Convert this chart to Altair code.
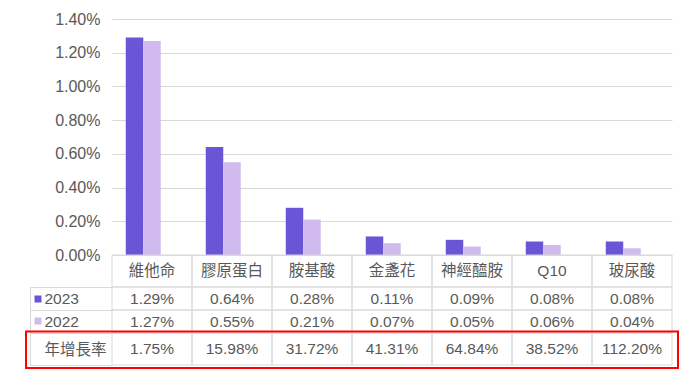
import altair as alt
import pandas as pd

# ---------------- data ----------------
categories = ["維他命", "膠原蛋白", "胺基酸", "金盞花", "神經醯胺", "Q10", "玻尿酸"]
years = ["2023", "2022"]
share_2023 = [0.0129, 0.0064, 0.0028, 0.0011, 0.0009, 0.0008, 0.0008]
share_2022 = [0.0127, 0.0055, 0.0021, 0.0007, 0.0005, 0.0006, 0.0004]
growth_label = "年增長率"
growth = [0.0175, 0.1598, 0.3172, 0.4131, 0.6484, 0.3852, 1.1220]
y_ticks = [0.0, 0.002, 0.004, 0.006, 0.008, 0.010, 0.012, 0.014]

# ---------------- style ----------------
FONT = "Liberation Sans, Noto Sans CJK TC"
TXT = "#595959"
GRID = "#d9d9d9"
C23 = "#6a55d7"
C22 = "#d0baee"
W = 560

bars_df = pd.DataFrame({
    "category": categories * 2,
    "year": [years[0]] * len(categories) + [years[1]] * len(categories),
    "value": share_2023 + share_2022,
})
cat_df = pd.DataFrame({"category": categories})
growth_df = pd.DataFrame({
    "category": categories,
    "row": [growth_label] * len(categories),
    "value": growth,
})
box_df = pd.DataFrame({"row": [growth_label]})

xs = alt.Scale(domain=categories, paddingInner=0, paddingOuter=0)
X = alt.X("category:N", scale=xs, axis=None)

# ---------------- bar chart ----------------
bars = alt.Chart(bars_df).mark_bar().encode(
    x=X,
    xOffset=alt.XOffset(
        "year:N",
        scale=alt.Scale(domain=years + [growth_label], paddingInner=0, paddingOuter=0.786),
    ),
    y=alt.Y(
        "value:Q",
        scale=alt.Scale(domain=[0, 0.014], nice=False),
        axis=alt.Axis(
            values=y_ticks, format=".2%", title=None,
            labelFontSize=16, labelColor=TXT, labelFont=FONT, labelPadding=12,
            ticks=False, domain=False, gridColor=GRID,
        ),
    ),
    fill=alt.Fill(
        "year:N",
        scale=alt.Scale(domain=years, range=[C23, C22]),
        legend=alt.Legend(
            orient="none", legendX=-82, legendY=272, title=None,
            symbolType="square", symbolSize=49, symbolStrokeWidth=0,
            labelExpr="''", labelFontSize=16, rowPadding=6,
        ),
    ),
).properties(width=W, height=236)

# ---------------- table: header row ----------------
cell = dict(fillOpacity=0, stroke=GRID, strokeWidth=1)
txt = dict(font=FONT, fontSize=15.5, color=TXT, baseline="middle", align="center")

header = (
    alt.Chart(cat_df).mark_rect(**cell).encode(x=X)
    + alt.Chart(cat_df).mark_text(**txt).encode(x=X, text="category:N")
).properties(width=W, height=32)


def row_axis():
    return alt.Axis(
        title=None, labelAlign="left", labelBaseline="middle", labelPadding=-14,
        labelFont=FONT, labelFontSize=15.5, labelColor=TXT,
        tickBand="extent", tickSize=82, tickColor=GRID, domain=False, grid=False,
    )


def edge_axis():
    return alt.Axis(
        title=None, orient="left", offset=82, labels=False, ticks=False,
        domain=True, domainColor=GRID, grid=False,
    )


# ---------------- table: 2023 / 2022 rows ----------------
def y_year(axis):
    return alt.Y("year:N", scale=alt.Scale(domain=years, paddingInner=0, paddingOuter=0), axis=axis)


rows = (
    alt.Chart(bars_df).mark_rect(**cell).encode(x=X, y=y_year(row_axis()))
    + alt.Chart(bars_df).mark_text(**txt).encode(
        x=X, y=y_year(edge_axis()), text=alt.Text("value:Q", format=".2%")
    )
).resolve_axis(y="independent").properties(width=W, height=46)


# ---------------- table: growth row ----------------
def y_growth(axis):
    return alt.Y("row:N", scale=alt.Scale(domain=[growth_label], paddingInner=0, paddingOuter=0), axis=axis)


red_box = alt.Chart(box_df).mark_rect(
    fillOpacity=0, stroke="#ff0000", strokeWidth=2
).encode(x=alt.value(-86), x2=alt.value(566), y=alt.value(-1.5), y2=alt.value(35))

growth_row = (
    alt.Chart(growth_df).mark_rect(**cell).encode(x=X, y=y_growth(row_axis()))
    + alt.Chart(growth_df).mark_text(**txt).encode(
        x=X, y=y_growth(edge_axis()), text=alt.Text("value:Q", format=".2%")
    )
    + red_box
).resolve_axis(y="independent").properties(width=W, height=32)

chart = (
    alt.vconcat(bars, header, rows, growth_row, spacing=0, bounds="flush")
    .resolve_legend(fill="independent")
    .configure_view(strokeWidth=0)
    .properties(padding={"left": 17, "top": 3, "right": 5, "bottom": 5})
)

chart.save("out.html", embed_options={"renderer": "svg", "actions": False})
